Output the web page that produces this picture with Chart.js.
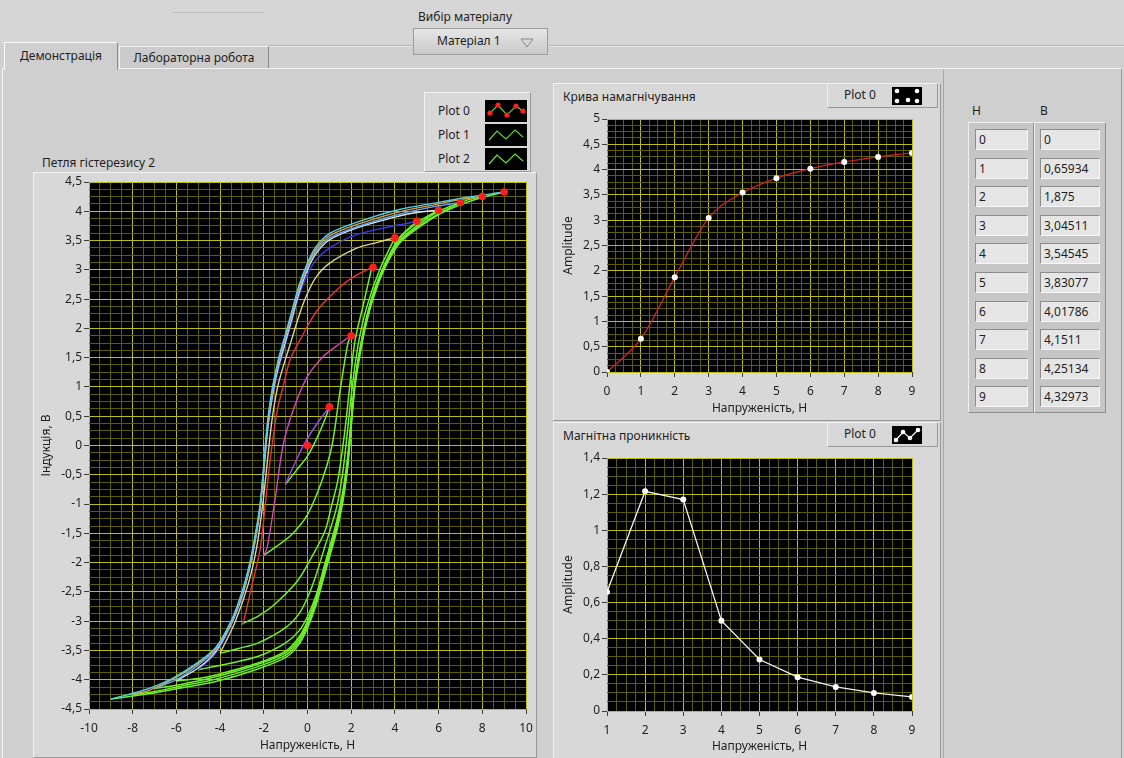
<!DOCTYPE html>
<html>
<head>
<meta charset="utf-8">
<script src="https://cdn.jsdelivr.net/npm/chart.js@4.4.1/dist/chart.umd.min.js"></script>
<style>
  html, body { margin: 0; padding: 0; }
  body {
    width: 1124px; height: 758px; position: relative; overflow: hidden;
    background: #d0d0d0; color: #1e1e1e;
    font-family: "Noto Sans", "Open Sans", sans-serif; font-size: 12px;
  }
  .abs { position: absolute; }
  .raised { background: #d8d8d8; border-top: 1px solid #f3f3f3; border-left: 1px solid #f3f3f3;
            border-right: 1px solid #989898; border-bottom: 1px solid #989898; box-sizing: border-box; }
  .lbl { white-space: nowrap; line-height: 16px; }
  canvas { position: absolute; display: block; }
  .tab { box-sizing: border-box; text-align: center; line-height: 22px; white-space: nowrap; }
  .legrow { position: absolute; left: 0; width: 100%; height: 22px; }
  .legrow span { position: absolute; line-height: 22px; }
  .cell { position: absolute; box-sizing: border-box; height: 21px; background: #e6e6e6;
          border-top: 1px solid #8c8c8c; border-left: 1px solid #8c8c8c;
          border-bottom: 1px solid #f7f7f7; border-right: 1px solid #f7f7f7;
          line-height: 19px; padding-left: 3px; overflow: hidden; white-space: nowrap; }
  .colframe { position: absolute; box-sizing: border-box; background: #c6c6c6;
              border-top: 1px solid #f0f0f0; border-left: 1px solid #f0f0f0;
              border-right: 1px solid #8e8e8e; border-bottom: 1px solid #8e8e8e; }
</style>
</head>
<body>

<!-- header strip -->
<div class="abs" style="left:0;top:0;width:1124px;height:44px;background:#d6d6d6"></div>
<div class="abs" style="left:172px;top:12px;width:92px;height:1px;background:#bdbdbd"></div>
<div class="abs" style="left:270px;top:45px;width:854px;height:1px;background:#b9b9b9"></div>
<div class="abs" style="left:270px;top:46px;width:854px;height:1px;background:#e8e8e8"></div>

<div class="abs lbl" style="left:418px;top:9px">Вибір матеріалу</div>
<div class="abs" style="left:413px;top:28px;width:135px;height:27px;box-sizing:border-box;border:1px solid #9c9c9c;background:linear-gradient(#e6e6e6,#c9c9c9)">
  <span class="abs lbl" style="left:23px;top:4px">Матеріал 1</span>
  <svg class="abs" style="left:106px;top:9px" width="14" height="10"><polygon points="1,1 13,1 7,9" fill="none" stroke="#8a8a8a" stroke-width="1"/></svg>
</div>

<!-- tab page -->
<div class="abs" style="left:2px;top:68px;width:1120px;height:692px;box-sizing:border-box;background:#cfcfcf;border-top:1px solid #f4f4f4;border-left:1px solid #f4f4f4;border-right:1px solid #9a9a9a"></div>
<div class="abs tab" style="left:119px;top:46px;width:150px;height:22px;background:#cbcbcb;border-top:1px solid #f2f2f2;border-left:1px solid #f2f2f2;border-right:1px solid #8c8c8c">Лабораторна робота</div>
<div class="abs tab" style="left:4px;top:42px;width:114px;height:28px;background:#cfcfcf;border-top:1px solid #fafafa;border-left:1px solid #fafafa;border-right:1px solid #8c8c8c;line-height:26px">Демонстрація</div>

<!-- left chart -->
<div class="abs raised" style="left:424px;top:92px;width:107px;height:80px">
  <div class="legrow" style="top:7px"><span style="left:13px">Plot 0</span>
    <svg class="abs" style="left:60px;top:0" width="42" height="22"><rect width="42" height="22" fill="#000"/>
      <polyline points="5,13 13,5 22,15 31,6 38,11" fill="none" stroke="#5ad82a" stroke-width="1.2"/>
      <circle cx="5" cy="13" r="2.6" fill="#ff2020"/><circle cx="13" cy="5" r="2.6" fill="#ff2020"/>
      <circle cx="22" cy="15" r="2.6" fill="#ff2020"/><circle cx="31" cy="6" r="2.6" fill="#ff2020"/>
      <circle cx="38" cy="11" r="2.6" fill="#ff2020"/></svg></div>
  <div class="legrow" style="top:31px"><span style="left:13px">Plot 1</span>
    <svg class="abs" style="left:60px;top:0" width="42" height="22"><rect width="42" height="22" fill="#000"/>
      <polyline points="4,16 12,7 21,15 30,6 38,13" fill="none" stroke="#5ad82a" stroke-width="1.2"/></svg></div>
  <div class="legrow" style="top:55px"><span style="left:13px">Plot 2</span>
    <svg class="abs" style="left:60px;top:0" width="42" height="22"><rect width="42" height="22" fill="#000"/>
      <polyline points="4,16 12,7 21,15 30,6 38,13" fill="none" stroke="#6ee82c" stroke-width="1.2"/></svg></div>
</div>
<div class="abs lbl" style="left:42px;top:155px">Петля гістерезису 2</div>
<div class="abs raised" style="left:33px;top:172px;width:504px;height:586px"></div>
<canvas id="loopChart" width="500" height="585" style="left:35px;top:172px"></canvas>

<!-- top right chart -->
<div class="abs raised" style="left:553px;top:83px;width:388px;height:338px"></div>
<div class="abs lbl" style="left:563px;top:89px">Крива намагнічування</div>
<div class="abs raised" style="left:827px;top:83px;width:111px;height:25px">
  <span class="abs lbl" style="left:16px;top:3px">Plot 0</span>
  <svg class="abs" style="left:64px;top:3px" width="30" height="18"><rect width="30" height="18" fill="#000"/>
    <circle cx="5" cy="4" r="2.3" fill="#fff"/><circle cx="5" cy="14" r="2.3" fill="#fff"/>
    <circle cx="16" cy="13" r="2.3" fill="#fff"/><circle cx="25" cy="4" r="2.3" fill="#fff"/>
    <circle cx="25" cy="14" r="2.3" fill="#fff"/></svg>
</div>
<canvas id="magChart" width="384" height="312" style="left:553px;top:108px"></canvas>

<!-- bottom right chart -->
<div class="abs raised" style="left:553px;top:422px;width:388px;height:337px"></div>
<div class="abs lbl" style="left:563px;top:428px">Магнітна проникність</div>
<div class="abs raised" style="left:827px;top:422px;width:111px;height:25px">
  <span class="abs lbl" style="left:16px;top:3px">Plot 0</span>
  <svg class="abs" style="left:64px;top:3px" width="30" height="18"><rect width="30" height="18" fill="#000"/>
    <polyline points="4,14 11,6 18,12 26,4" fill="none" stroke="#fff" stroke-width="1.2"/>
    <circle cx="4" cy="14" r="2.3" fill="#fff"/><circle cx="11" cy="6" r="2.3" fill="#fff"/>
    <circle cx="18" cy="12" r="2.3" fill="#fff"/><circle cx="26" cy="4" r="2.3" fill="#fff"/></svg>
</div>
<canvas id="permChart" width="384" height="311" style="left:553px;top:447px"></canvas>

<!-- table -->
<div class="abs" style="left:943px;top:69px;width:1px;height:689px;background:#a8a8a8"></div>
<div class="abs lbl" style="left:972px;top:103px">H</div>
<div class="abs lbl" style="left:1040px;top:103px">B</div>
<div class="colframe" style="left:968px;top:122px;width:66px;height:291px"></div>
<div class="colframe" style="left:1034px;top:122px;width:72px;height:291px"></div>
<div id="tableMount"></div>

<script>
// magnetisation curve: tips of the loops (also the table values)
const magH = [0, 1, 2, 3, 4, 5, 6, 7, 8, 9];
const magB = [0, 0.659341, 1.875, 3.04511, 3.54545, 3.83077, 4.01786, 4.1511, 4.25134, 4.32973];

// permeability curve
const permH = [1, 2, 3, 4, 5, 6, 7, 8, 9];
const permMu = [0.659, 1.216, 1.17, 0.5, 0.285, 0.187, 0.133, 0.1, 0.078];

// descending branches of the loops, [H, B]
const desc1 = [[1,0.659],[0.45,0.38],[0,0.12],[-0.35,-0.12],[-0.7,-0.4],[-1,-0.659]];
const desc2 = [[2,1.875],[1.4,1.72],[0.72,1.52],[0,1.18],[-0.65,0.61],[-1.12,0],[-1.49,-0.93],[-1.85,-1.75],[-2,-1.875]];
const desc3 = [[3,3.05],[2.2,2.9],[1.5,2.71],[0.45,2.31],[-0.2,1.9],[-0.8,1.46],[-1.1,1.03],[-1.38,0.61],[-1.69,-0.19],[-1.93,-1],[-2.17,-1.78],[-2.55,-2.4],[-2.95,-3.05]];
const desc4 = [[4,3.55],[3.2,3.47],[2.25,3.37],[1,3.11],[0.4,2.88],[0,2.6],[-0.35,2.26],[-0.8,1.72],[-1.33,1.06],[-1.6,0.5],[-1.76,0],[-1.9,-0.5],[-2.08,-1.1],[-2.33,-1.75],[-2.7,-2.35],[-3.3,-3],[-4,-3.55]];
const desc5 = [[5,3.83],[4.5,3.79],[3.8,3.74],[2.25,3.6],[1,3.37],[0.4,3.17],[0,2.92],[-0.4,2.55],[-0.75,2.08],[-1.05,1.68],[-1.35,1.27],[-1.6,0.82],[-1.8,0.32],[-1.94,-0.18],[-2.06,-0.68],[-2.2,-1.18],[-2.42,-1.68],[-2.69,-2.16],[-3.05,-2.65],[-3.56,-3.12],[-4.2,-3.55],[-5,-3.83]];
const desc6 = [[6,4.02],[5,3.98],[4.2,3.92],[2.3,3.72],[1,3.51],[0.4,3.28],[0,3],[-0.4,2.59],[-0.75,2.12],[-1.05,1.72],[-1.35,1.32],[-1.6,0.87],[-1.8,0.37],[-1.93,-0.13],[-2.05,-0.63],[-2.19,-1.13],[-2.4,-1.63],[-2.66,-2.11],[-3.02,-2.6],[-3.52,-3.07],[-4.2,-3.52],[-5,-3.8],[-6,-4.02]];
const desc7 = [[7,4.15],[5.8,4.08],[4.2,3.95],[2.3,3.74],[1,3.54],[0.4,3.32],[0,3.04],[-0.4,2.64],[-0.75,2.17],[-1.05,1.77],[-1.35,1.37],[-1.6,0.92],[-1.8,0.42],[-1.93,-0.08],[-2.04,-0.58],[-2.17,-1.08],[-2.38,-1.58],[-2.64,-2.07],[-3,-2.56],[-3.5,-3.04],[-4.2,-3.49],[-5,-3.75],[-6,-4],[-7,-4.15]];
const desc8 = [[8,4.25],[7,4.2],[5.8,4.11],[4.2,3.99],[2.3,3.78],[1,3.58],[0.4,3.36],[0,3.08],[-0.4,2.68],[-0.75,2.21],[-1.05,1.81],[-1.35,1.41],[-1.6,0.96],[-1.8,0.46],[-1.93,-0.04],[-2.04,-0.54],[-2.17,-1.04],[-2.38,-1.54],[-2.64,-2.03],[-3,-2.53],[-3.5,-3.02],[-4.2,-3.47],[-5,-3.72],[-6.2,-4],[-7.3,-4.19],[-8,-4.25]];
const desc9 = [[9,4.33],[7.3,4.24],[5.8,4.14],[4.2,4.03],[2.3,3.82],[1,3.62],[0.4,3.4],[0,3.12],[-0.4,2.72],[-0.75,2.25],[-1.05,1.85],[-1.35,1.45],[-1.6,1],[-1.8,0.5],[-1.93,0],[-2.04,-0.5],[-2.17,-1],[-2.38,-1.5],[-2.64,-2],[-3,-2.5],[-3.5,-3],[-4.2,-3.45],[-5,-3.7],[-6.2,-3.98],[-7.5,-4.18],[-9,-4.33]];

// ascending (green) branches
const asc1 = [[-1,-0.659],[-0.5,-0.42],[0,-0.18],[0.4,0.1],[0.75,0.4],[1,0.659]];
const asc2 = [[-2,-1.875],[-1.4,-1.72],[-0.72,-1.52],[0,-1.18],[0.65,-0.61],[1.12,0],[1.49,0.93],[1.85,1.75],[2,1.875]];
const asc3 = [[-3,-3.05],[-2.2,-2.9],[-1.5,-2.71],[-0.45,-2.31],[0.2,-1.9],[0.8,-1.46],[1.1,-1.03],[1.38,-0.61],[1.69,0.19],[1.93,1],[2.17,1.78],[2.55,2.4],[2.95,3.05]];
const asc4 = [[-4,-3.55],[-3.2,-3.47],[-2.25,-3.37],[-1,-3.11],[-0.4,-2.88],[0,-2.6],[0.35,-2.26],[0.8,-1.72],[1.33,-1.06],[1.6,-0.5],[1.76,0],[1.9,0.5],[2.08,1.1],[2.33,1.75],[2.7,2.35],[3.3,3],[4,3.55]];
const asc5 = [[-5,-3.83],[-4.5,-3.79],[-3.8,-3.74],[-2.25,-3.6],[-1,-3.37],[-0.4,-3.17],[0,-2.92],[0.4,-2.55],[0.75,-2.08],[1.05,-1.68],[1.35,-1.27],[1.6,-0.82],[1.8,-0.32],[1.94,0.18],[2.06,0.68],[2.2,1.18],[2.42,1.68],[2.69,2.16],[3.05,2.65],[3.56,3.12],[4.2,3.55],[5,3.83]];
const asc6 = [[-6,-4.02],[-5,-3.98],[-4.2,-3.92],[-2.3,-3.72],[-1,-3.51],[-0.4,-3.28],[0,-3],[0.4,-2.59],[0.75,-2.12],[1.05,-1.72],[1.35,-1.32],[1.6,-0.87],[1.8,-0.37],[1.93,0.13],[2.05,0.63],[2.19,1.13],[2.4,1.63],[2.66,2.11],[3.02,2.6],[3.52,3.07],[4.2,3.52],[5,3.8],[6,4.02]];
const asc7 = [[-7,-4.15],[-5.8,-4.08],[-4.2,-3.95],[-2.3,-3.74],[-1,-3.54],[-0.4,-3.32],[0,-3.04],[0.4,-2.64],[0.75,-2.17],[1.05,-1.77],[1.35,-1.37],[1.6,-0.92],[1.8,-0.42],[1.93,0.08],[2.04,0.58],[2.17,1.08],[2.38,1.58],[2.64,2.07],[3,2.56],[3.5,3.04],[4.2,3.49],[5,3.75],[6,4],[7,4.15]];
const asc8 = [[-8,-4.25],[-7,-4.2],[-5.8,-4.11],[-4.2,-3.99],[-2.3,-3.78],[-1,-3.58],[-0.4,-3.36],[0,-3.08],[0.4,-2.68],[0.75,-2.21],[1.05,-1.81],[1.35,-1.41],[1.6,-0.96],[1.8,-0.46],[1.93,0.04],[2.04,0.54],[2.17,1.04],[2.38,1.54],[2.64,2.03],[3,2.53],[3.5,3.02],[4.2,3.47],[5,3.72],[6.2,4],[7.3,4.19],[8,4.25]];
const asc9 = [[-9,-4.33],[-7.3,-4.24],[-5.8,-4.14],[-4.2,-4.03],[-2.3,-3.82],[-1,-3.62],[-0.4,-3.4],[0,-3.12],[0.4,-2.72],[0.75,-2.25],[1.05,-1.85],[1.35,-1.45],[1.6,-1],[1.8,-0.5],[1.93,0],[2.04,0.5],[2.17,1],[2.38,1.5],[2.64,2],[3,2.5],[3.5,3],[4.2,3.45],[5,3.7],[6.2,3.98],[7.5,4.18],[9,4.33]];

const descBranches = [desc1, desc2, desc3, desc4, desc5, desc6, desc7, desc8, desc9];
const ascBranches = [asc1, asc2, asc3, asc4, asc5, asc6, asc7, asc8, asc9];
const descColors = ["#a048ff", "#d844c8", "#e83434", "#d8d890", "#3a3af0", "#e4e4e4", "#5aa8ff", "#e89a3a", "#4ed0ec"];
const ascColor = "#6cf02c";

const GRID_MAJOR = "rgb(188,188,24)";
const GRID_MINOR = "rgb(92,92,0)";
const FONT = { family: '"Noto Sans", "Open Sans", sans-serif', size: 12 };

function isMajor(v, major) {
  const r = v / major;
  return Math.abs(r - Math.round(r)) < 1e-6;
}

function fmt(v) {
  return String(Math.round(v * 100000) / 100000).replace(".", ",");
}

function linScale(min, max, minor, major, title, fit, horizontal, titlePad) {
  return {
    type: "linear", min, max,
    border: { display: false },
    grid: {
      color: c => isMajor(c.tick.value, major) ? GRID_MAJOR : GRID_MINOR,
      tickColor: c => isMajor(c.tick.value, major) ? "#3c3c3c" : "rgba(0,0,0,0)",
      tickLength: 5
    },
    ticks: {
      stepSize: minor, autoSkip: false, maxRotation: 0, color: "#1e1e1e", font: FONT,
      padding: horizontal ? 7 : 2,
      callback: v => isMajor(v, major) ? fmt(v) : ""
    },
    title: { display: true, text: title, color: "#1e1e1e", font: FONT, padding: { top: titlePad, bottom: 4 } },
    afterFit: s => {
      if (horizontal) { s.height = fit; s.paddingLeft = 0; s.paddingRight = 0; }
      else s.width = fit;
    }
  };
}

const plotBg = {
  id: "plotBg",
  beforeDraw(chart) {
    const { ctx, chartArea: a } = chart;
    ctx.save();
    ctx.fillStyle = "#000";
    ctx.fillRect(a.left, a.top, a.right - a.left, a.bottom - a.top);
    ctx.restore();
  }
};

const toXY = arr => arr.map(p => ({ x: p[0], y: p[1] }));

function baseOptions(padding, xScale, yScale) {
  return {
    responsive: false, animation: false,
    layout: { padding },
    plugins: { legend: { display: false }, tooltip: { enabled: false } },
    scales: { x: xScale, y: yScale }
  };
}

// hysteresis loops
const loopSets = [];
loopSets.push({
  data: magH.map((h, i) => ({ x: h, y: magB[i] })),
  showLine: false, pointRadius: 3.8, pointBackgroundColor: "#ff1e1e", pointBorderWidth: 0
});
for (let k = descBranches.length - 1; k >= 0; k--) {
  loopSets.push({
    data: toXY(descBranches[k]), showLine: true, borderColor: descColors[k],
    borderWidth: 1.4, tension: 0.3, pointRadius: 0
  });
}
for (let k = ascBranches.length - 1; k >= 0; k--) {
  loopSets.push({
    data: toXY(ascBranches[k]), showLine: true, borderColor: ascColor,
    borderWidth: 1.5, tension: 0.3, pointRadius: 0
  });
}

new Chart(document.getElementById("loopChart"), {
  type: "scatter",
  data: { datasets: loopSets },
  options: baseOptions({ top: 10, right: 9, left: 0, bottom: 0 },
    linScale(-10, 10, 0.5, 2, "Напруженість, Н", 48, true, 4),
    linScale(-4.5, 4.5, 0.125, 0.5, "Індукція, В", 54, false, 4)),
  plugins: [plotBg]
});

new Chart(document.getElementById("magChart"), {
  type: "scatter",
  data: { datasets: [{
    data: magH.map((h, i) => ({ x: h, y: magB[i] })),
    showLine: true, borderColor: "#d42222", borderWidth: 1.3,
    cubicInterpolationMode: "monotone",
    pointRadius: 3, pointBackgroundColor: "#ffffff", pointBorderWidth: 0
  }] },
  options: baseOptions({ top: 11, right: 25, left: 0, bottom: 0 },
    linScale(0, 9, 0.25, 1, "Напруженість, Н", 48, true, 4),
    linScale(0, 5, 0.125, 0.5, "Amplitude", 54, false, 8)),
  plugins: [plotBg]
});

new Chart(document.getElementById("permChart"), {
  type: "scatter",
  data: { datasets: [{
    data: permH.map((h, i) => ({ x: h, y: permMu[i] })),
    showLine: true, borderColor: "#f2f2f2", borderWidth: 1.3, tension: 0,
    pointRadius: 3, pointBackgroundColor: "#ffffff", pointBorderWidth: 0
  }] },
  options: baseOptions({ top: 11, right: 25, left: 0, bottom: 0 },
    linScale(1, 9, 0.25, 1, "Напруженість, Н", 47, true, 4),
    linScale(0, 1.4, 0.05, 0.2, "Amplitude", 54, false, 8)),
  plugins: [plotBg]
});

// H / B table
const mount = document.getElementById("tableMount");
magH.forEach((h, i) => {
  const top = 129 + i * 28.6;
  const c1 = document.createElement("div");
  c1.className = "cell";
  c1.style.cssText = `left:975px;top:${top}px;width:53px`;
  c1.textContent = String(h);
  const c2 = document.createElement("div");
  c2.className = "cell";
  c2.style.cssText = `left:1040px;top:${top}px;width:60px`;
  c2.textContent = fmt(magB[i]);
  mount.appendChild(c1);
  mount.appendChild(c2);
});
</script>
</body>
</html>
